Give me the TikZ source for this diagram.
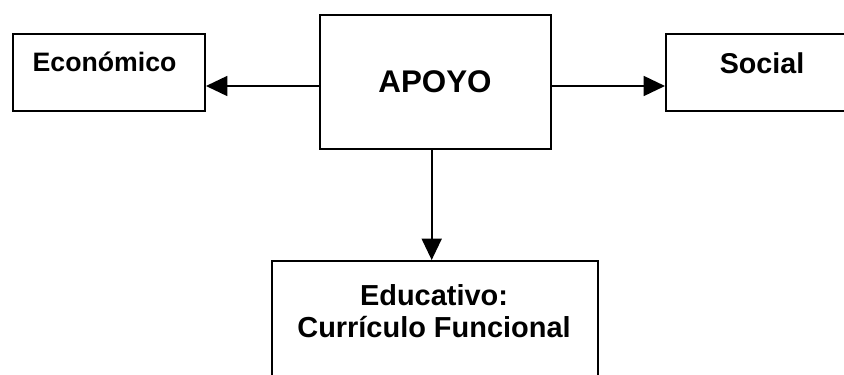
\documentclass[tikz,border=0pt]{standalone}
\usepackage{fontspec}
\setmainfont{Liberation Sans}
\usetikzlibrary{arrows.meta}
\begin{document}
\begin{tikzpicture}[x=0.75pt,y=-0.75pt,
  box/.style={draw=black,line width=1.5pt,inner sep=0pt,minimum width=#1},
  lbl/.style={font=\bfseries,inner sep=0pt,anchor=center},
  arr/.style={line width=1.2pt,-{Triangle[length=16pt,width=15pt]}}]
\useasboundingbox (0,0) rectangle (844,375);
\clip (0,0) rectangle (844,375);
\node[box=144pt,minimum height=57.75pt] (econ) at (109,72.5) {};
\node[lbl,font=\bfseries\fontsize{20}{23}\selectfont] (econt) at (104.5,62) {Económico};
\node[box=173.25pt,minimum height=100.5pt] (apoyo) at (435.5,82) {};
\node[lbl,font=\bfseries\fontsize{23.5}{27}\selectfont] (apoyot) at (435,82) {APOYO};
\node[box=150pt,minimum height=57.75pt] (social) at (766,72.5) {};
\node[lbl,font=\bfseries\fontsize{21.5}{25}\selectfont] (socialt) at (762,63) {Social};
\node[box=244.5pt,minimum height=150pt] (edu) at (435,361) {};
\node[lbl,font=\bfseries\fontsize{21.7}{25}\selectfont,align=center] (edut) at (434,311) {Educativo:\\[-1pt]Currículo Funcional};
\coordinate (ay) at (0,86);
\coordinate (ax) at (431.7,0);
\draw[arr] (apoyo.west |- ay) -- (econ.east |- ay);
\draw[arr] (apoyo.east |- ay) -- (social.west |- ay);
\draw[arr] (apoyo.south -| ax) -- (edu.north -| ax);
\end{tikzpicture}
\end{document}
